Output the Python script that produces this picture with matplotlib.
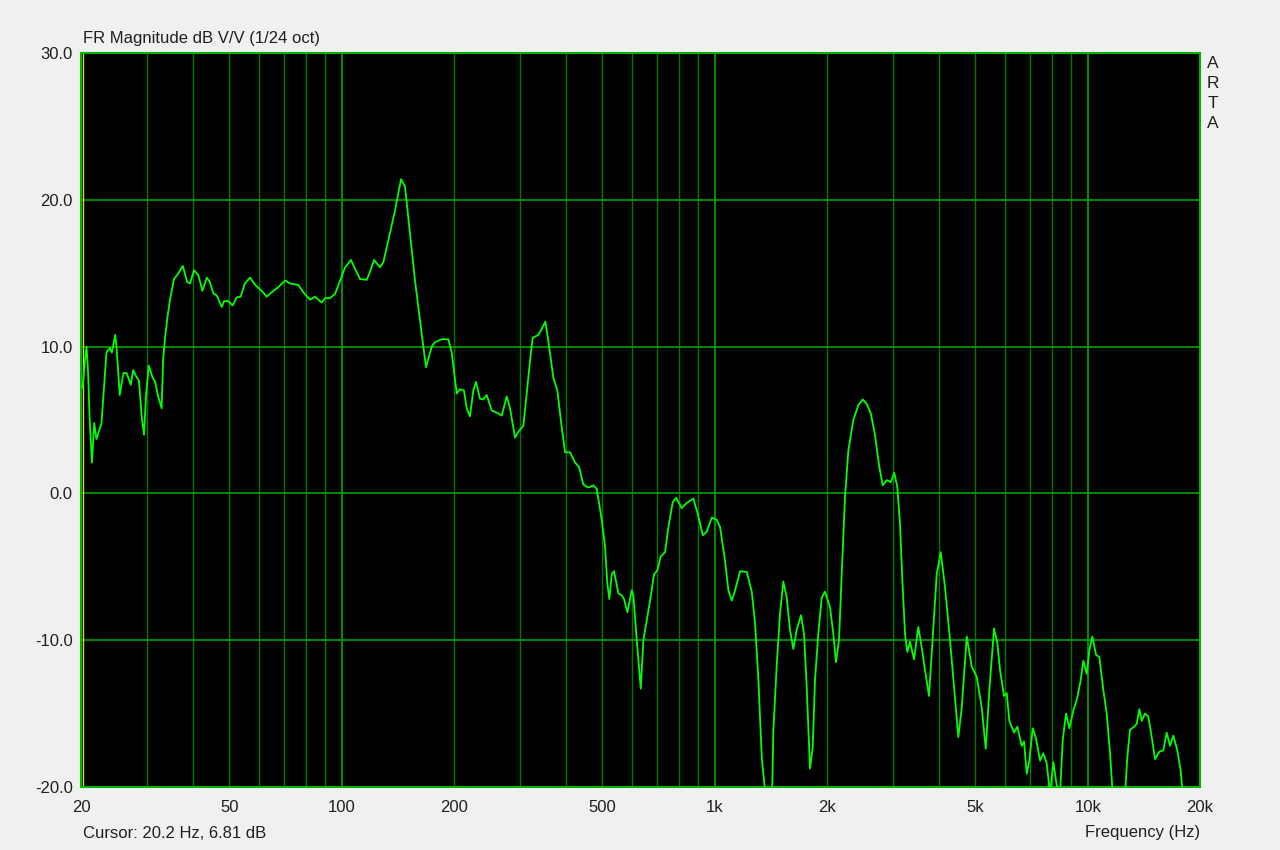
import numpy as np
import matplotlib
matplotlib.use("Agg")
from matplotlib import pyplot as plt

# frequency response (Hz, dB)
freq = [20.2, 20.5, 20.7, 20.9, 21.1, 21.4, 21.7, 22.0, 22.7, 23.4, 23.9, 24.2, 24.7, 24.9,
        25.4, 26.0, 26.5, 27.2, 27.6, 28.2, 28.6, 29.1, 29.5, 29.9, 30.4, 31.1, 31.6, 32.2,
        32.9, 33.2, 33.6, 34.1, 34.6, 35.5, 36.5, 37.5, 38.5, 39.2, 40.2, 41.3, 42.3, 43.5,
        44.3, 45.3, 46.2, 47.7, 48.4, 49.7, 51.0, 52.3, 53.6, 55.0, 56.8, 58.6, 61.0, 62.9,
        64.9, 67.6, 70.5, 72.7, 76.5, 78.9, 82.2, 84.8, 88.4, 90.2, 93.0, 96.0, 99.0, 102.1,
        105.9, 108.6, 112.0, 116.7, 119.1, 122.1, 126.7, 129.3, 133.3, 139.0, 144.2, 147.8,
        152.4, 157.2, 165.5, 168.3, 174.3, 177.9, 185.4, 193.1, 197.2, 203.4, 207.5, 212.7,
        216.3, 220.7, 225.3, 229.1, 234.8, 239.6, 244.7, 252.4, 260.3, 268.5, 276.9, 282.6,
        291.5, 297.5, 306.8, 313.3, 319.8, 325.1, 336.6, 343.7, 351.4, 358.0, 369.2, 378.5,
        388.9, 396.9, 409.4, 422.2, 432.8, 444.4, 458.4, 472.7, 482.8, 497.9, 508.2, 515.4,
        521.8, 529.6, 537.2, 551.6, 563.3, 571.4, 583.2, 599.2, 605.2, 618.0, 633.5, 643.7,
        657.4, 670.9, 687.7, 701.8, 716.7, 736.0, 751.2, 771.8, 787.7, 815.9, 841.5, 876.5,
        900.7, 928.9, 952.1, 982.0, 1012.8, 1033.7, 1066.1, 1088.0, 1111.1, 1134.0, 1169.6,
        1219.0, 1257.2, 1283.1, 1309.5, 1337.2, 1379.2, 1422.4, 1436.5, 1467.0, 1496.3,
        1527.2, 1559.6, 1591.6, 1624.4, 1658.9, 1703.6, 1735.4, 1764.5, 1800.8, 1831.1,
        1857.3, 1895.6, 1935.6, 1975.5, 2037.4, 2079.2, 2114.2, 2153.8, 2190.0, 2235.2,
        2281.2, 2352.6, 2426.4, 2493.2, 2555.6, 2624.4, 2690.0, 2762.4, 2821.2, 2891.6,
        2963.8, 3030.4, 3087.0, 3139.0, 3183.8, 3237.4, 3283.8, 3339.0, 3422.4, 3514.6,
        3589.2, 3663.0, 3754.4, 3817.6, 3937.2, 4035.8, 4144.2, 4274.2, 4381.2, 4499.0,
        4594.4, 4738.6, 4887.2, 5040.4, 5198.6, 5328.4, 5448.2, 5608.4, 5723.8, 5820.0,
        5965.6, 6065.8, 6164.0, 6345.6, 6476.2, 6654.4, 6749.6, 6863.0, 6974.0, 7122.0,
        7268.4, 7450.2, 7603.4, 7764.6, 7924.4, 8087.6, 8259.2, 8429.2, 8570.8, 8747.2,
        8927.2, 9150.4, 9379.0, 9578.0, 9733.0, 9939.4, 10100, 10289, 10527, 10744, 11012,
        11246, 11477, 11670, 12100, 12589, 12769, 12983, 13307, 13531, 13750, 13955, 14242,
        14536, 14844, 15149, 15557, 15947, 16285, 16620, 16962, 17386, 17755, 17976, 18300]

mag = [7.2, 9.1, 10.0, 8.2, 5.0, 2.1, 4.8, 3.7, 4.8, 9.6, 9.9, 9.6, 10.8, 10.0,
       6.7, 8.2, 8.2, 7.4, 8.4, 7.9, 7.7, 5.2, 4.0, 6.8, 8.7, 7.9, 7.6, 6.6,
       5.8, 9.1, 10.6, 12.0, 13.1, 14.6, 15.0, 15.5, 14.4, 14.3, 15.2, 14.85, 13.8, 14.7,
       14.4, 13.6, 13.5, 12.7, 13.1, 13.1, 12.8, 13.35, 13.4, 14.3, 14.7, 14.2, 13.8, 13.4,
       13.7, 14.05, 14.5, 14.3, 14.2, 13.7, 13.2, 13.4, 13.0, 13.3, 13.3, 13.6, 14.5, 15.4,
       15.9, 15.3, 14.6, 14.55, 15.1, 15.9, 15.4, 15.75, 17.2, 19.3, 21.4, 20.9,
       17.7, 14.5, 10.0, 8.6, 10.0, 10.3, 10.5, 10.5, 9.6, 6.8, 7.1, 7.0,
       5.8, 5.25, 7.0, 7.6, 6.45, 6.4, 6.7, 5.65, 5.5, 5.3, 6.6, 5.8,
       3.8, 4.2, 4.6, 6.8, 9.06, 10.6, 10.8, 11.2, 11.7, 10.4, 7.9, 7.0,
       4.5, 2.8, 2.8, 2.1, 1.8, 0.6, 0.4, 0.55, 0.3, -1.8, -3.65, -6.15,
       -7.2, -5.5, -5.3, -6.8, -6.95, -7.2, -8.1, -6.6, -6.95, -10.0, -13.3, -10.0,
       -8.65, -7.3, -5.5, -5.25, -4.3, -4.0, -2.3, -0.6, -0.3, -1.0, -0.65, -0.35,
       -1.4, -2.85, -2.6, -1.65, -1.8, -2.3, -4.6, -6.6, -7.3, -6.6, -5.3,
       -5.35, -6.7, -8.9, -12.7, -18.0, -21.5, -21.5, -16.1, -11.6, -8.2,
       -6.0, -7.1, -9.3, -10.6, -9.3, -8.3, -9.55, -13.2, -18.75, -17.3,
       -12.7, -9.55, -7.1, -6.7, -7.75, -9.55, -11.5, -10.0, -5.5, -0.25,
       2.9, 5.0, 6.0, 6.4, 6.1, 5.4, 3.95, 1.8, 0.55, 0.9,
       0.77, 1.4, 0.43, -2.1, -5.9, -9.55, -10.8, -10.1, -11.3, -9.1,
       -10.5, -12.05, -13.8, -10.9, -5.5, -4.0, -6.4, -10.0, -13.2, -16.6,
       -14.6, -9.75, -11.8, -12.5, -14.6, -17.4, -13.4, -9.2, -10.2, -12.05,
       -13.8, -13.6, -15.5, -16.3, -15.9, -17.2, -16.9, -19.1, -18.2, -16.0,
       -16.7, -18.2, -17.7, -18.4, -20.5, -18.3, -19.9, -20.5, -16.8, -15.0,
       -16.0, -14.8, -13.9, -12.7, -11.4, -12.3, -10.7, -9.75, -11.0, -11.15, -13.4,
       -15.0, -17.7, -20.5, -23.0, -20.5, -18.0, -16.1, -15.9, -15.7, -14.7, -15.5, -15.0,
       -15.2, -16.6, -18.1, -17.6, -17.5, -16.3, -17.2, -16.5, -17.5, -18.9, -20.5, -22.0]

xtick_vals = [20, 50, 100, 200, 500, 1000, 2000, 5000, 10000, 20000]
xtick_text = ['20', '50', '100', '200', '500', '1k', '2k', '5k', '10k', '20k']
ytick_vals = [-20, -10, 0, 10, 20, 30]
grid_f = [30, 40, 50, 60, 70, 80, 90, 200, 300, 400, 500, 600, 700, 800, 900,
          2000, 3000, 4000, 5000, 6000, 7000, 8000, 9000]
decade_f = [100, 1000, 10000]

plt.rcParams['font.family'] = ['Liberation Sans', 'DejaVu Sans']

fig = plt.figure(figsize=(12.8, 8.5), dpi=100, facecolor='#f0f0f0')
ax = fig.add_axes([81 / 1280, 63 / 850, 1119 / 1280, 734 / 850])
ax.set_facecolor('black')
ax.set_xscale('log')
ax.set_xlim(20, 20000)
ax.set_ylim(-20, 30)

# grid: thin dim lines, decades and dB lines a bit brighter
for f in grid_f:
    ax.axvline(f, color='#007800', lw=1.0, zorder=1)
for f in decade_f:
    ax.axvline(f, color='#00a800', lw=1.2, zorder=1)
for v in ytick_vals[1:-1]:
    ax.axhline(v, color='#00a000', lw=1.2, zorder=1)

ax.plot(freq, mag, color='#00ff00', lw=1.3, zorder=3)
ax.axvline(20.2, color='#e0e000', lw=1.0, zorder=2)

for s in ax.spines.values():
    s.set_color('#00b400')
    s.set_linewidth(1.5)

ax.set_xticks(xtick_vals)
ax.set_xticklabels(xtick_text)
ax.xaxis.set_minor_locator(matplotlib.ticker.NullLocator())
ax.set_yticks(ytick_vals)
ax.set_yticklabels(['%.1f' % v for v in ytick_vals])
ax.tick_params(length=0, labelsize=12, colors='#202020', pad=6)
ax.tick_params(axis='x', pad=9)

fig.text(83 / 1280, 1 - 38 / 850, 'FR Magnitude dB V/V (1/24 oct)', fontsize=12,
         ha='left', va='center', color='#202020')
fig.text(83 / 1280, 1 - 833 / 850, 'Cursor: 20.2 Hz, 6.81 dB', fontsize=12,
         ha='left', va='center', color='#202020')
fig.text(1200 / 1280, 1 - 833 / 850, 'Frequency (Hz)', fontsize=12,
         ha='right', va='center', color='#202020')
for i, ch in enumerate('ARTA'):
    fig.text(1213 / 1280, 1 - (63 + 20 * i) / 850, ch, fontsize=12.5,
             ha='center', va='center', color='#202020')

fig.savefig('out.png', dpi=100, facecolor=fig.get_facecolor())
